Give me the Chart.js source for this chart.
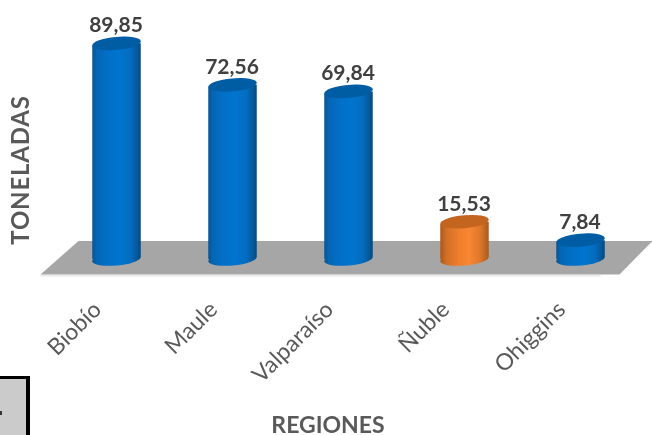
<!DOCTYPE html>
<html><head><meta charset="utf-8">
<style>
html,body{margin:0;padding:0;background:#fff;overflow:hidden}
#wrap{position:relative;width:652px;height:435px}
canvas{position:absolute;left:0;top:0}
#box{position:absolute;left:0;top:376px;width:26px;height:59px;background:#cbcbcb;border-top:3px solid #000;border-right:4px solid #000}
#box i{position:absolute;left:0;top:32px;width:2px;height:4px;background:#333}
</style>
<script src="https://cdn.jsdelivr.net/npm/chart.js@4"></script>
</head><body>
<div id="wrap"><canvas id="c" width="652" height="435"></canvas><div id="box"><i></i></div></div>
<script>
const categories = ['Biobío','Maule','Valparaíso','Ñuble','Ohiggins'];
const values = [89.85,72.56,69.84,15.53,7.84];
const xTitle = 'REGIONES';
const yTitle = 'TONELADAS';
const sideStops = {
  blue:[['#0a5590',0],['#0566b5',.1],['#026fc6',.3],['#0074cf',.55],['#046dc0',.78],['#05589a',.93],['#074676',1]],
  orange:[['#a9581c',0],['#d06f26',.13],['#f07e2c',.38],['#f88633',.6],['#de772b',.82],['#a65a20',1]]
};
const capColor = {blue:'#005ca3',orange:'#c4651f'};
const tones = ['blue','blue','blue','orange','blue'];
const ry = 6.5, tilt = 2.5, tiltA = -0.09;

function sideGrad(ctx,x,w,tone){
  const g = ctx.createLinearGradient(x-w/2,0,x+w/2,0);
  sideStops[tone].forEach(s=>g.addColorStop(s[1],s[0]));
  return g;
}
const cyl = {
  id:'cyl',
  beforeDatasetsDraw(ch){
    const {ctx,chartArea:a} = ch;
    ctx.save();
    ctx.fillStyle='#e9e9e9';
    ctx.fillRect(a.left-18,a.bottom+16,560,1.5);
    ctx.fillStyle='#a6a6a6';
    ctx.beginPath();
    ctx.moveTo(a.left+20,a.bottom-18);
    ctx.lineTo(a.right+14,a.bottom-18);
    ctx.lineTo(a.right-19,a.bottom+15.5);
    ctx.lineTo(a.left-18,a.bottom+15.5);
    ctx.closePath();ctx.fill();
    ch.getDatasetMeta(0).data.forEach((b,i)=>{
      ctx.fillStyle=sideGrad(ctx,b.x,b.width,tones[i]);
      ctx.beginPath();
      ctx.ellipse(b.x,b.base,b.width/2,ry,tiltA,0,Math.PI*2);
      ctx.fill();
    });
    ctx.restore();
  },
  beforeDatasetDraw(ch){
    const {ctx} = ch;
    ctx.save();
    ctx.beginPath();
    ch.getDatasetMeta(0).data.forEach(b=>{
      const l=b.x-b.width/2,r=b.x+b.width/2;
      ctx.moveTo(l,b.y+tilt);ctx.lineTo(r,b.y-tilt);
      ctx.lineTo(r,b.base-tilt);ctx.lineTo(l,b.base+tilt);ctx.closePath();
    });
    ctx.clip();
  },
  afterDatasetDraw(ch){
    const {ctx} = ch;
    ctx.restore();
    ctx.save();
    ch.getDatasetMeta(0).data.forEach((b,i)=>{
      ctx.fillStyle=capColor[tones[i]];
      ctx.beginPath();
      ctx.ellipse(b.x,b.y,b.width/2,ry,tiltA,0,Math.PI*2);
      ctx.fill();
    });
    ctx.restore();
  },
  afterDraw(ch){
    const {ctx} = ch;
    ctx.save();
    ctx.textAlign='center';ctx.textBaseline='alphabetic';
    ctx.fillStyle='#404040';
    ctx.font='bold 21px Lato';
    ch.getDatasetMeta(0).data.forEach((b,i)=>{
      ctx.fillText(values[i].toFixed(2).replace('.',','),b.x-.5,b.y-11);
    });
    ctx.fillStyle='#595959';
    ctx.font='bold 23px Lato';
    ctx.fillText(xTitle,328,433);
    ctx.translate(29,170);ctx.rotate(-Math.PI/2);
    ctx.font='bold 24px Lato';
    ctx.letterSpacing='0.8px';
    ctx.fillText(yTitle,0,0);
    ctx.restore();
  }
};
new Chart(document.getElementById('c'),{
  type:'bar',
  data:{labels:categories,datasets:[{
    data:values,
    categoryPercentage:.42,barPercentage:1,
    borderWidth:0,
    backgroundColor(c){
      const a=c.chart.chartArea;
      if(!a) return '#0070c8';
      const step=(a.right-a.left)/categories.length;
      const x=a.left+step*(c.dataIndex+.5),w=step*.42;
      return sideGrad(c.chart.ctx,x,w,tones[c.dataIndex]);
    }
  }]},
  options:{
    responsive:false,animation:false,devicePixelRatio:1,
    layout:{padding:{left:58.5,right:13.5,top:19,bottom:0}},
    plugins:{legend:{display:false},tooltip:{enabled:false}},
    scales:{
      y:{display:false,min:0,max:100},
      x:{
        grid:{display:false},border:{display:false},
        afterFit(s){s.height=176;},
        ticks:{minRotation:45,maxRotation:45,padding:29,labelOffset:-19,color:'#595959',font:{family:'Lato',size:23}}
      }
    }
  },
  plugins:[cyl]
});
</script>
</body></html>
